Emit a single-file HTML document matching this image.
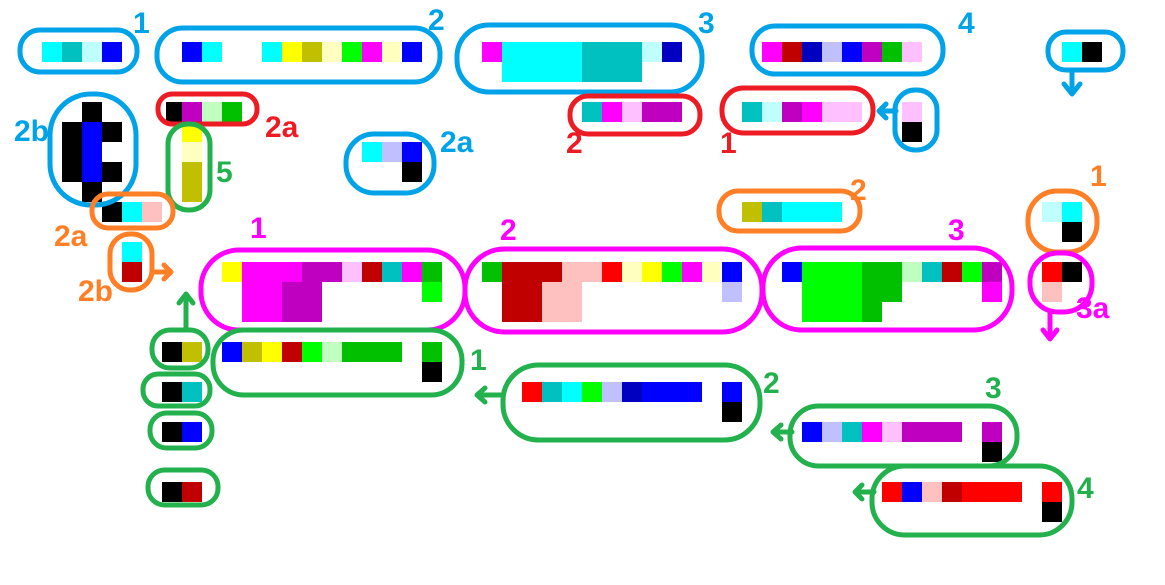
<!DOCTYPE html>
<html><head><meta charset="utf-8">
<style>
html,body{margin:0;padding:0;background:#fff;}
svg{display:block;}
.lbl{font-family:"Liberation Sans","DejaVu Sans",sans-serif;font-weight:bold;font-size:30px;}
.ol{fill:none;stroke-width:5;stroke-linecap:round;stroke-linejoin:round;}
</style></head>
<body>
<svg id="s" width="1165" height="585" viewBox="0 0 1165 585" xmlns="http://www.w3.org/2000/svg">
<rect width="1165" height="585" fill="#fff"/>
<g id="cells"></g>
<g id="outlines"></g>
<g id="labels">
 <text class="lbl" x="133" y="33" fill="#00a2e8">1</text>
 <text class="lbl" x="428" y="30" fill="#00a2e8">2</text>
 <text class="lbl" x="698" y="33" fill="#00a2e8">3</text>
 <text class="lbl" x="958" y="33" fill="#00a2e8">4</text>
 <text class="lbl" x="14" y="141" fill="#00a2e8">2b</text>
 <text class="lbl" x="440" y="152" fill="#00a2e8">2a</text>
 <text class="lbl" x="265" y="137" fill="#ed1c24">2a</text>
 <text class="lbl" x="216" y="182" fill="#22b14c">5</text>
 <text class="lbl" x="54" y="246" fill="#ff7f27">2a</text>
 <text class="lbl" x="78" y="301" fill="#ff7f27">2b</text>
 <text class="lbl" x="566" y="153" fill="#ed1c24">2</text>
 <text class="lbl" x="720" y="153" fill="#ed1c24">1</text>
 <text class="lbl" x="850" y="200" fill="#ff7f27">2</text>
 <text class="lbl" x="1090" y="186" fill="#ff7f27">1</text>
 <text class="lbl" x="250" y="238" fill="#ff00ff">1</text>
 <text class="lbl" x="500" y="240" fill="#ff00ff">2</text>
 <text class="lbl" x="948" y="240" fill="#ff00ff">3</text>
 <text class="lbl" x="1076" y="318" fill="#ff00ff">3a</text>
 <text class="lbl" x="470" y="370" fill="#22b14c">1</text>
 <text class="lbl" x="763" y="393" fill="#22b14c">2</text>
 <text class="lbl" x="985" y="398" fill="#22b14c">3</text>
 <text class="lbl" x="1077" y="498" fill="#22b14c">4</text>
</g>
<g id="arrows">
 <path class="ol" stroke="#00a2e8" d="M1072 72 L1072 93 M1064 84 L1072 94 L1080 84"/>
 <path class="ol" stroke="#00a2e8" d="M896 111 L880 111 M886 104 L879 111 L886 118"/>
 <path class="ol" stroke="#ff7f27" d="M152 272 L170 272 M164 265 L171 272 L164 279"/>
 <path class="ol" stroke="#22b14c" d="M186 330 L186 296 M179 303 L186 294 L193 303"/>
 <path class="ol" stroke="#ff00ff" d="M1050 312 L1050 338 M1043 330 L1050 339 L1057 330"/>
 <path class="ol" stroke="#22b14c" d="M502 395 L478 395 M485 388 L477 395 L485 402"/>
 <path class="ol" stroke="#22b14c" d="M792 432 L774 432 M781 425 L773 432 L781 439"/>
 <path class="ol" stroke="#22b14c" d="M874 492 L856 492 M862 485 L855 492 L862 499"/>
</g>
</svg>
<script>
var C={c:"#00ffff",t:"#00c0c0",lc:"#c0ffff",b:"#0000ff",db:"#0000c0",y:"#ffff00",o:"#c0c000",ly:"#ffffc0",g:"#00ff00",dg:"#00c000",lg:"#c0ffc0",m:"#ff00ff",p:"#c000c0",pk:"#ffc0ff",dr:"#c00000",r:"#ff0000",sa:"#ffc0c0",lv:"#c0c0ff",k:"#000000"};
// each cell: [x, y, w, h, colour]
var blue1=[[42,42,20,20,"c"],[62,42,20,20,"t"],[82,42,20,20,"lc"],[102,42,20,20,"b"]];
var blue2=[[182,42,20,20,"b"],[202,42,20,20,"c"],[262,42,20,20,"c"],[282,42,20,20,"y"],[302,42,20,20,"o"],[322,42,20,20,"ly"],[342,42,20,20,"g"],[362,42,20,20,"m"],[382,42,20,20,"ly"],[402,42,20,20,"b"]];
var blue3=[[482,42,20,20,"m"],[502,42,80,40,"c"],[582,42,60,40,"t"],[642,42,20,20,"lc"],[662,42,20,20,"db"]];
var blue4=[[762,42,20,20,"m"],[782,42,20,20,"dr"],[802,42,20,20,"db"],[822,42,20,20,"lv"],[842,42,20,20,"b"],[862,42,20,20,"p"],[882,42,20,20,"dg"],[902,42,20,20,"pk"]];
var blueTR=[[1062,42,20,20,"c"],[1082,42,20,20,"k"]];
var bluePK=[[902,102,20,20,"pk"],[902,122,20,20,"k"]];
var red2=[[582,102,20,20,"t"],[602,102,20,20,"m"],[622,102,20,20,"pk"],[642,102,40,20,"p"]];
var red1=[[742,102,20,20,"t"],[762,102,20,20,"lc"],[782,102,20,20,"p"],[802,102,20,20,"m"],[822,102,40,20,"pk"]];
var blue2b=[[82,102,20,20,"k"],[62,122,20,60,"k"],[82,122,20,60,"b"],[102,122,20,20,"k"],[102,162,20,20,"k"],[82,182,20,20,"k"]];
var red2a=[[166,102,16,20,"k"],[182,102,20,20,"p"],[202,102,20,20,"lg"],[222,102,20,20,"dg"]];
var green5=[[182,122,20,20,"y"],[182,142,20,20,"ly"],[182,162,20,40,"o"]];
var blue2a=[[362,142,20,20,"c"],[382,142,20,20,"lv"],[402,142,20,20,"b"],[402,162,20,20,"k"]];
var orange2a=[[102,202,20,20,"k"],[122,202,20,20,"c"],[142,202,20,20,"sa"]];
var orange2b=[[122,242,20,20,"c"],[122,262,20,20,"dr"]];
var orange2=[[742,202,20,20,"o"],[762,202,20,20,"t"],[782,202,60,20,"c"]];
var orange1=[[1042,202,20,20,"lc"],[1062,202,20,20,"c"],[1062,222,20,20,"k"]];
var mag1=[[222,262,20,20,"y"],[242,262,60,20,"m"],[302,262,40,20,"p"],[342,262,20,20,"pk"],[362,262,20,20,"dr"],[382,262,20,20,"t"],[402,262,20,20,"m"],[422,262,20,20,"dg"],[242,282,40,40,"m"],[282,282,40,40,"p"],[422,282,20,20,"g"]];
var mag2=[[482,262,20,20,"dg"],[502,262,60,20,"dr"],[562,262,40,20,"sa"],[602,262,20,20,"r"],[622,262,20,20,"ly"],[642,262,20,20,"y"],[662,262,20,20,"g"],[682,262,20,20,"m"],[702,262,20,20,"ly"],[722,262,20,20,"b"],[502,282,40,40,"dr"],[542,282,40,40,"sa"],[722,282,20,20,"lv"]];
var mag3=[[782,262,20,20,"b"],[802,262,60,20,"g"],[862,262,40,20,"dg"],[902,262,20,20,"lg"],[922,262,20,20,"t"],[942,262,20,20,"dr"],[962,262,20,20,"g"],[982,262,20,20,"p"],[802,282,60,40,"g"],[862,282,40,20,"dg"],[862,302,20,20,"dg"],[982,282,20,20,"m"]];
var mag3a=[[1042,262,20,20,"r"],[1062,262,20,20,"k"],[1042,282,20,20,"sa"]];
var gs1=[[162,342,20,20,"k"],[182,342,20,20,"o"]];
var gs2=[[162,382,20,20,"k"],[182,382,20,20,"t"]];
var gs3=[[162,422,20,20,"k"],[182,422,20,20,"b"]];
var gs4=[[162,482,20,20,"k"],[182,482,20,20,"dr"]];
var green1=[[222,342,20,20,"b"],[242,342,20,20,"o"],[262,342,20,20,"y"],[282,342,20,20,"dr"],[302,342,20,20,"g"],[322,342,20,20,"lg"],[342,342,60,20,"dg"],[422,342,20,20,"dg"],[422,362,20,20,"k"]];
var green2=[[522,382,20,20,"r"],[542,382,20,20,"t"],[562,382,20,20,"c"],[582,382,20,20,"g"],[602,382,20,20,"lv"],[622,382,20,20,"db"],[642,382,60,20,"b"],[722,382,20,20,"b"],[722,402,20,20,"k"]];
var green3=[[802,422,20,20,"b"],[822,422,20,20,"lv"],[842,422,20,20,"t"],[862,422,20,20,"m"],[882,422,20,20,"pk"],[902,422,60,20,"p"],[982,422,20,20,"p"],[982,442,20,20,"k"]];
var green4=[[882,482,20,20,"r"],[902,482,20,20,"b"],[922,482,20,20,"sa"],[942,482,20,20,"dr"],[962,482,60,20,"r"],[1042,482,20,20,"r"],[1042,502,20,20,"k"]];

var outlines=[
 ["blue-1",20,30,137,72,"#00a2e8"],["blue-2",157,28,440,82,"#00a2e8"],["blue-3",457,25,702,92,"#00a2e8"],["blue-4",752,26,943,74,"#00a2e8"],
 ["blue-top-right",1048,32,1123,70,"#00a2e8"],["blue-pink-black",895,90,937,150,"#00a2e8"],["blue-2b",50,94,136,205,"#00a2e8"],["blue-2a",346,134,434,193,"#00a2e8"],
 ["red-2",570,96,700,134,"#ed1c24"],["red-1",722,88,873,133,"#ed1c24"],["red-2a",158,94,257,124,"#ed1c24"],
 ["green-5",168,124,210,210,"#22b14c"],["orange-2a",92,194,173,228,"#ff7f27"],["orange-2b",110,234,152,290,"#ff7f27"],
 ["orange-2",719,191,860,231,"#ff7f27"],["orange-1",1028,191,1097,252,"#ff7f27"],
 ["magenta-1",201,250,465,330,"#ff00ff"],["magenta-2",465,249,762,332,"#ff00ff"],["magenta-3",763,248,1012,330,"#ff00ff"],["magenta-3a",1030,253,1092,312,"#ff00ff"],
 ["green-1",213,330,462,395,"#22b14c"],["green-2",503,365,760,440,"#22b14c"],["green-3",790,406,1017,466,"#22b14c"],["green-4",872,466,1072,535,"#22b14c"],
 ["green-small-1",152,330,208,368,"#22b14c"],["green-small-2",143,374,210,406,"#22b14c"],["green-small-3",150,413,212,448,"#22b14c"],["green-small-4",148,470,218,505,"#22b14c"]
];
var NS="http://www.w3.org/2000/svg";
var cellsG=document.getElementById("cells");
var groups={"blue-1":blue1,"blue-2":blue2,"blue-3":blue3,"blue-4":blue4,"blue-top-right":blueTR,"blue-pink-black":bluePK,"red-2":red2,"red-1":red1,"blue-2b":blue2b,"red-2a":red2a,"green-5":green5,"blue-2a":blue2a,"orange-2a":orange2a,"orange-2b":orange2b,"orange-2":orange2,"orange-1":orange1,"magenta-1":mag1,"magenta-2":mag2,"magenta-3":mag3,"magenta-3a":mag3a,"green-small-1":gs1,"green-small-2":gs2,"green-small-3":gs3,"green-small-4":gs4,"green-1":green1,"green-2":green2,"green-3":green3,"green-4":green4};
for(var k in groups){
 var g=document.createElementNS(NS,"g");
 
 
 groups[k].forEach(function(c){
  var r=document.createElementNS(NS,"rect");
  r.setAttribute("x",c[0]);r.setAttribute("y",c[1]);r.setAttribute("width",c[2]);r.setAttribute("height",c[3]);r.setAttribute("fill",C[c[4]]);
  
  
  g.appendChild(r);
 });
 cellsG.appendChild(g);
}
var olG=document.getElementById("outlines");
outlines.forEach(function(o){
 var x1=o[1],y1=o[2],x2=o[3],y2=o[4];
 var h=y2-y1, rr=Math.min(h/2, (x2-x1)/2);
 var p=document.createElementNS(NS,"rect");
 p.setAttribute("x",x1);p.setAttribute("y",y1);p.setAttribute("width",x2-x1);p.setAttribute("height",h);
 p.setAttribute("rx",rr*0.95);p.setAttribute("ry",rr*0.95);
 p.setAttribute("class","ol");p.setAttribute("stroke",o[5]);
 
 
 olG.appendChild(p);
});
</script>
</body></html>
